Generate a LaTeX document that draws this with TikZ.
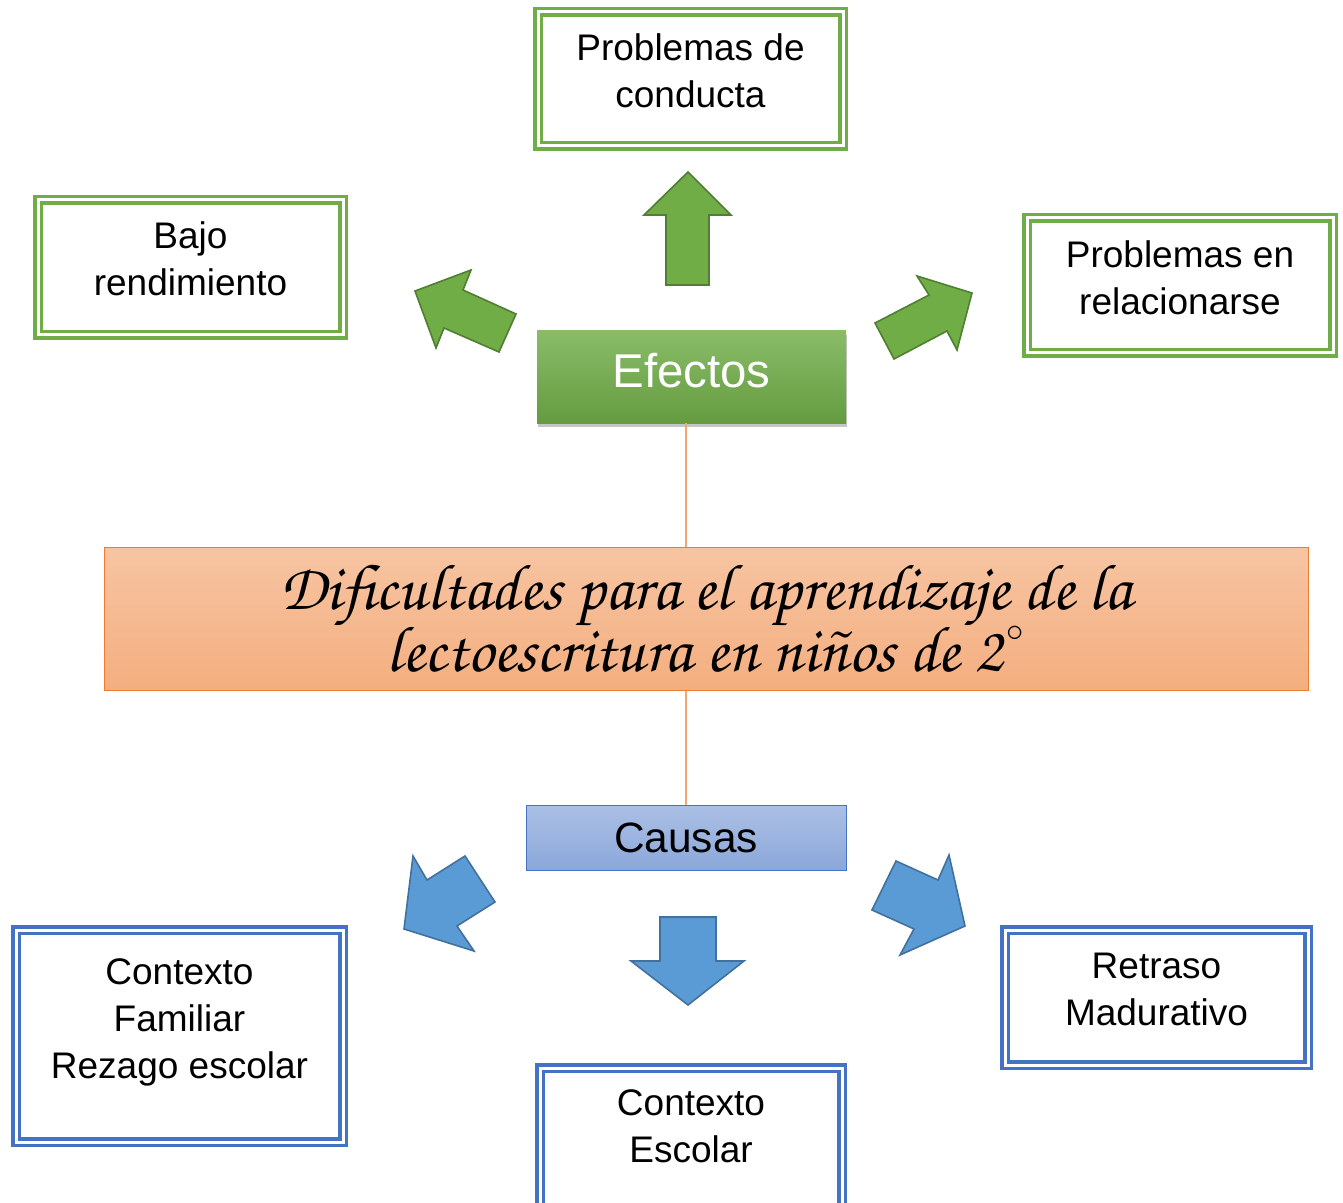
\documentclass[tikz,border=0pt]{standalone}
\usepackage{fontspec}
\usepackage{tikz}
\usetikzlibrary{shadows}
\setmainfont{Liberation Sans}
\newfontfamily\chorus{texgyrechorus-mediumitalic.otf}
\definecolor{verde}{HTML}{70AD47}
\definecolor{verdeosc}{HTML}{507E32}
\definecolor{azul}{HTML}{4472C4}
\definecolor{azulflecha}{HTML}{5B9BD5}
\definecolor{azulosc}{HTML}{41719C}
\definecolor{naranja}{HTML}{ED7D31}
\definecolor{linea}{HTML}{F4A46E}

\begin{document}
\begin{tikzpicture}[x=0.5pt, y=-0.5pt, efecto/.style = {shape=rectangle, draw=verde, double=white, double distance=1.5pt, line width=1.75pt, align=center, fill=white, inner sep=0pt, font=\fontsize{18.5pt}{23.5pt}\selectfont}, causa/.style = {efecto, draw=azul}, flechaverde/.style = {fill=verde, draw=verdeosc, line width=0.8pt, line join=miter}, flechaazul/.style = {fill=azulflecha, draw=azulosc, line width=0.8pt, line join=miter}]
	\useasboundingbox (0,0) rectangle (1343,1203);
	% efectos
	\node[efecto, minimum width=152.5pt, minimum height=67pt, text depth=8.5pt] (conducta) at (690.5,79) {Problemas de\\conducta};
	\node[efecto, minimum width=152.5pt, minimum height=67.5pt, text depth=9pt] (bajo) at (190.5,267.5) {Bajo\\rendimiento};
	\node[efecto, minimum width=153pt, minimum height=67.5pt, text depth=7.5pt] (relacion) at (1180,285.5) {Problemas en\\relacionarse};
	\node[shape=rectangle, minimum width=154.5pt, minimum height=46pt, top color=verde!82!white, bottom color=verde!90!black, draw=none, text=white, text depth=7pt, font=\fontsize{23.7pt}{28pt}\selectfont, drop shadow={shadow xshift=0.5pt, shadow yshift=-2pt, opacity=0.45}] (efectos) at (691.5,377) {Efectos};
	% tema central
	\node[shape=rectangle, minimum width=602pt, minimum height=71.5pt, top color=naranja!45!white, bottom color=naranja!62!white, draw=naranja, line width=0.5pt, align=center, font=\chorus\fontsize{32.5pt}{31pt}\selectfont] (dificultades) at (706,618.5) {Dificultades para el aprendizaje de la\\lectoescritura en niños de 2\kern2pt\raisebox{6pt}[0pt][0pt]{$^{\scriptscriptstyle\circ}$}};
	% causas
	\node[shape=rectangle, minimum width=160pt, minimum height=32.5pt, top color=azul!45!white, bottom color=azul!62!white, draw=azul, line width=0.5pt, font=\fontsize{21.2pt}{25pt}\selectfont] (causas) at (686,837.5) {Causas};
	\node[causa, minimum width=163.5pt, minimum height=106pt, text depth=17pt] (familiar) at (179.5,1036) {Contexto\\Familiar\\Rezago escolar};
	\node[causa, minimum width=151pt, minimum height=71pt, text depth=12.5pt] (escolar) at (691,1139) {Contexto\\Escolar};
	\node[causa, minimum width=151.5pt, minimum height=67.5pt, text depth=8.5pt] (madurativo) at (1156.5,997.5) {Retraso\\Madurativo};
	% conectores
	\draw[linea, line width=0.7pt] (efectos.south -| causas.north) -- (dificultades.north -| causas.north);
	\draw[linea, line width=0.7pt] (dificultades.south -| causas.north) -- (causas.north);
	% flechas
	\draw[flechaverde] (666,285) -- (666,215) -- (644,215) -- (688,172) -- (731,215) -- (709,215) -- (709,285) -- cycle;
	\draw[flechaverde] (516,314) -- (463,290) -- (471,270) -- (415,291) -- (436,348) -- (444,328) -- (499,352) -- cycle;
	\draw[flechaverde] (875,323) -- (929,295) -- (917,276) -- (972,293) -- (957,350) -- (947,331) -- (894,359) -- cycle;
	\draw[flechaazul] (660,917) -- (716,917) -- (716,961) -- (744,961) -- (688,1005) -- (631,961) -- (660,961) -- cycle;
	\draw[flechaazul] (465,856) -- (427,880) -- (413,856) -- (404,929) -- (474,951) -- (457,926) -- (495,902) -- cycle;
	\draw[flechaazul] (896,861) -- (938,880) -- (949,855) -- (965,926) -- (900,955) -- (914,929) -- (872,910) -- cycle;
\end{tikzpicture}
\end{document}
